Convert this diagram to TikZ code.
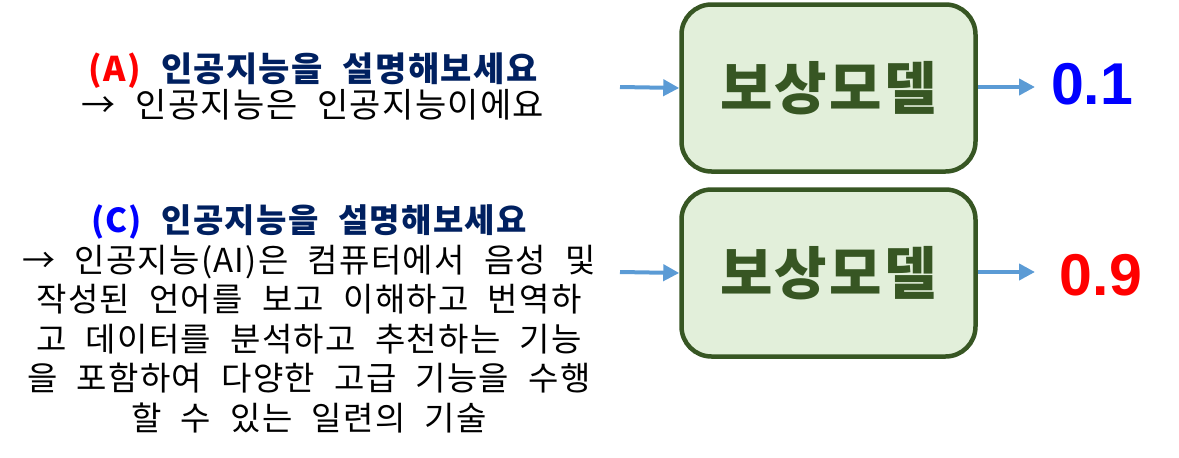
\documentclass[tikz,border=0pt]{standalone}
\usepackage{fontspec}
\setmainfont[WordSpace=2.2, LetterSpace=4]{Noto Sans CJK KR}
\newfontfamily\digits{Liberation Sans}
\usetikzlibrary{arrows.meta}
\definecolor{navy}{HTML}{002060}
\definecolor{boxgreen}{HTML}{375623}
\definecolor{boxfill}{HTML}{E2EFDA}
\definecolor{arrowblue}{HTML}{5B9BD5}
\tikzset{
  model/.style={draw=boxgreen, line width=4.5pt, fill=boxfill, rounded corners=30pt,
    minimum width=294pt, minimum height=167pt, text=boxgreen,
    font=\fontsize{57}{60}\selectfont\bfseries},
  flow/.style={arrowblue, line width=4pt, -{Triangle[length=16pt,width=16pt]}},
  score/.style={font=\fontsize{59}{66}\selectfont\digits\bfseries},
  prompt/.style={align=center, font=\fontsize{33}{39.5}\selectfont}
}
\begin{document}
\begin{tikzpicture}[x=1pt,y=-1pt]
    \useasboundingbox (0,0) rectangle (1179,458);
    % reward model boxes
    \node[model] (m1) at (828.5,88) {보상모델};
    \node[model] (m2) at (828.5,273) {보상모델};
    % inputs
    \node[prompt, font=\fontsize{34}{36}\selectfont] (qa) at (313,86)
        {{\bfseries\textcolor{red}{(A)} \textcolor{navy}{인공지능을 설명해보세요}}\\
         → 인공지능은 인공지능이에요};
    \node[prompt] (qc) at (309,319)
        {{\bfseries\textcolor{blue}{(C)} \textcolor{navy}{인공지능을 설명해보세요}}\\
         → 인공지능(AI)은 컴퓨터에서 음성 및\\
         작성된 언어를 보고 이해하고 번역하\\
         고 데이터를 분석하고 추천하는 기능\\
         을 포함하여 다양한 고급 기능을 수행\\
         할 수 있는 일련의 기술};
    \coordinate (in1) at (620,87);
    \coordinate (in2) at (620,272);
    \draw[flow] (in1) -- (m1.west);
    \draw[flow] (in2) -- (m2.west);
    % scores
    \coordinate (out1) at (1035,87);
    \coordinate (out2) at (1035,272);
    \draw[flow] (m1.east |- out1) -- (out1);
    \draw[flow] (m2.east |- out2) -- (out2);
    \node[score, text=blue] (v1) at (1092,84) {0.1};
    \node[score, text=red] (v2) at (1101,275) {0.9};
\end{tikzpicture}
\end{document}
